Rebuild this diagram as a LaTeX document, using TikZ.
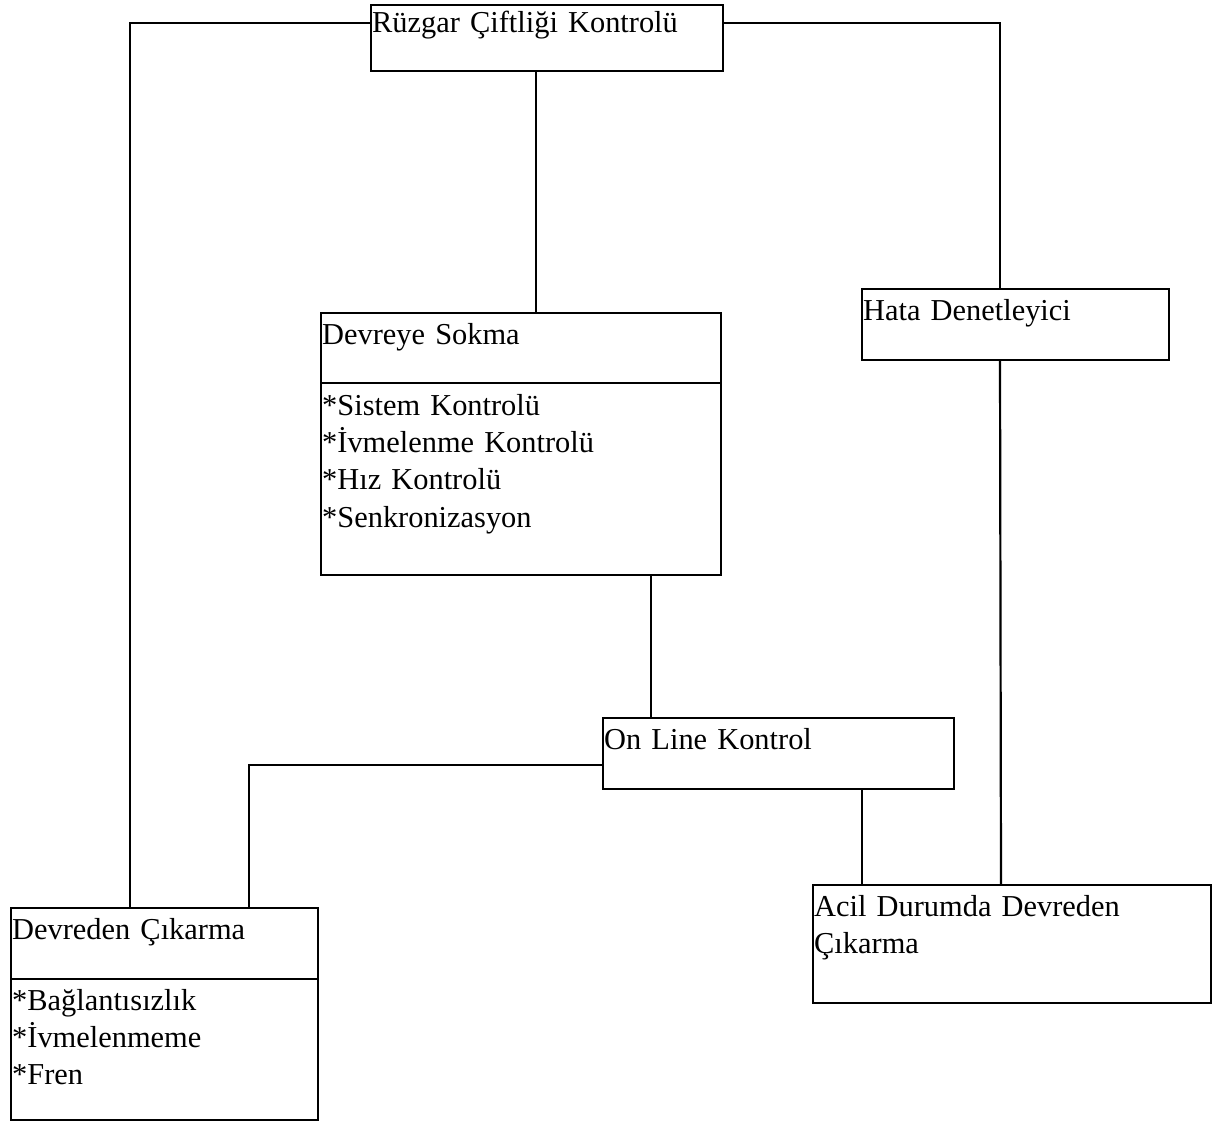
\documentclass[tikz,border=0pt]{standalone}
\usepackage{fontspec}
\setmainfont{Liberation Serif}
\usepackage{tikz}
\usetikzlibrary{positioning}

\begin{document}
\begin{tikzpicture}[
        x=0.5pt, y=-0.5pt,
        every node/.style={font=\fontsize{15.2}{18.7}\selectfont},
        box/.style={draw, line width=1.2pt, outer sep=0pt, anchor=north west, inner xsep=0.6pt, inner ysep=1pt, align=left, text height=14.5pt},
        link/.style={line width=1.1pt}
        ]
        \useasboundingbox (0,0) rectangle (1219,1125);

        % Nodes
        \node[box, text width=174.8pt, text height=12.5pt, text depth=18.5pt] (farm) at (371,5) {Rüzgar Çiftliği Kontrolü};
        \node[box, text width=198.8pt, text depth=18.5pt] (startH) at (321,313) {Devreye Sokma};
        \node[box, text width=198.8pt, text height=15pt, text depth=79pt, below=0pt of startH] (startB) {*Sistem Kontrolü\\{}*İvmelenme Kontrolü\\{}*Hız Kontrolü\\{}*Senkronizasyon};
        \node[box, text width=152.3pt, text depth=19pt] (fault) at (862,289) {Hata Denetleyici};
        \node[box, text width=174.3pt, text depth=19pt] (online) at (603,718) {On Line Kontrol};
        \node[box, text width=152.3pt, text depth=19pt] (stopH) at (11,908) {Devreden Çıkarma};
        \node[box, text width=152.3pt, text height=14.5pt, text depth=54pt, below=0pt of stopH] (stopB) {*Bağlantısızlık\\{}*İvmelenmeme\\{}*Fren};
        \node[box, text width=197.8pt, text depth=42.5pt] (emerg) at (813,885) {Acil Durumda Devreden\\Çıkarma};

        % Connectors
        \draw[link] ([yshift=-9pt]farm.north west) -| ([xshift=59.5pt]stopH.north west);
        \draw[link] ([yshift=-9pt]farm.north east) -| ([xshift=69pt]fault.north west);
        \draw[link] ([xshift=82.5pt]farm.south west) -- ([xshift=107.5pt]startH.north west);
        \draw[link] ([xshift=69pt]fault.south west) -- ([xshift=94pt]emerg.north west);
        \draw[link] ([xshift=165pt]startB.south west) -- ([xshift=24pt]online.north west);
        \draw[link] ([yshift=-23.5pt]online.north west) -| ([xshift=119pt]stopH.north west);
        \draw[link] ([xshift=129.5pt]online.south west) -- ([xshift=24.5pt]emerg.north west);
    \end{tikzpicture}
\end{document}
